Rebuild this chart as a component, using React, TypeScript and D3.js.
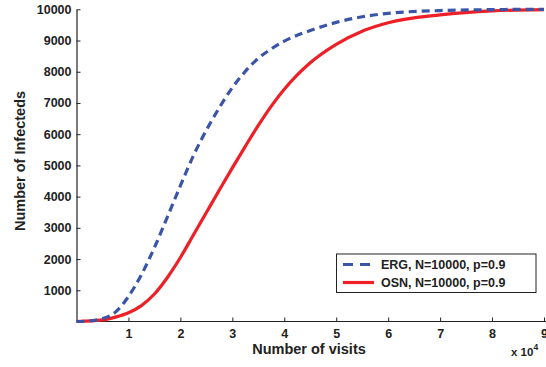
import React, { useEffect, useRef } from 'react'
import * as d3 from 'd3'

// visits in units of 10^4
const ergX = [0, 0.25, 0.5, 0.75, 1, 1.25, 1.5, 1.75, 2, 2.25, 2.5, 2.75, 3, 3.25, 3.5, 3.75, 4, 4.5, 5, 5.5, 6, 7, 8, 9]
const ergY = [0, 20, 90, 300, 800, 1500, 2370, 3350, 4350, 5310, 6130, 6850, 7490, 8010, 8430, 8730, 8980, 9320, 9580, 9760, 9870, 9960, 9990, 10000]

const osnX = [0, 0.5, 0.75, 1, 1.25, 1.5, 1.75, 2, 2.25, 2.5, 2.75, 3, 3.25, 3.5, 3.75, 4, 4.25, 4.5, 5, 5.5, 6, 7, 8, 9]
const osnY = [0, 50, 140, 280, 510, 880, 1410, 2050, 2770, 3490, 4210, 4920, 5610, 6280, 6900, 7440, 7900, 8290, 8880, 9300, 9570, 9820, 9950, 9990]

const xTicks = [1, 2, 3, 4, 5, 6, 7, 8, 9]
const yTicks = [1000, 2000, 3000, 4000, 5000, 6000, 7000, 8000, 9000, 10000]
const legendLabels = ['ERG, N=10000, p=0.9', 'OSN, N=10000, p=0.9']

const BLUE = '#3a55a8'
const RED = '#ee1f26'

export default function App() {
  const ref = useRef<SVGSVGElement>(null)

  useEffect(() => {
    const svg = d3.select(ref.current)
    svg.selectAll('*').remove()

    const x = d3.scaleLinear().domain([0, 9]).range([76.5, 544])
    const y = d3.scaleLinear().domain([0, 10000]).range([321.5, 9.3])
    const font = 'Liberation Sans, Arial, sans-serif'

    const line = d3.line<[number, number]>()
      .x(d => x(d[0]))
      .y(d => y(d[1]))
      .curve(d3.curveMonotoneX)

    // axes
    const xAxis = svg.append('g').attr('transform', `translate(0,${y(0)})`)
      .call(d3.axisBottom(x).tickValues(xTicks).tickSizeInner(-4).tickSizeOuter(0).tickPadding(8))
    const yAxis = svg.append('g').attr('transform', `translate(${x(0)},0)`)
      .call(d3.axisLeft(y).tickValues(yTicks).tickFormat(d3.format('d')).tickSizeInner(-4).tickSizeOuter(0).tickPadding(5))
    ;[xAxis, yAxis].forEach(a => {
      a.select('.domain').attr('stroke', '#222').attr('stroke-width', 1.2)
      a.selectAll('.tick line').attr('stroke', '#222')
      a.selectAll('.tick text')
        .attr('font-family', font).attr('font-weight', 'bold')
        .attr('font-size', 12.5).attr('fill', '#222')
    })
    xAxis.select('.domain').attr('d', `M${x(0)},0H546`)

    // curves
    svg.append('path')
      .datum(osnX.map((v, i) => [v, osnY[i]] as [number, number]))
      .attr('d', line).attr('fill', 'none')
      .attr('stroke', RED).attr('stroke-width', 3.2)
    svg.append('path')
      .datum(ergX.map((v, i) => [v, ergY[i]] as [number, number]))
      .attr('d', line).attr('fill', 'none')
      .attr('stroke', BLUE).attr('stroke-width', 3.2)
      .attr('stroke-dasharray', '8,5')

    // axis labels
    svg.append('text').attr('x', 309).attr('y', 353.5)
      .attr('text-anchor', 'middle').attr('font-family', font)
      .attr('font-weight', 'bold').attr('font-size', 14.5).attr('fill', '#222')
      .text('Number of visits')
    svg.append('text')
      .attr('transform', 'translate(24.5,161) rotate(-90)')
      .attr('text-anchor', 'middle').attr('font-family', font)
      .attr('font-weight', 'bold').attr('font-size', 14.5).attr('fill', '#222')
      .text('Number of Infecteds')
    const exp = svg.append('text').attr('x', 511).attr('y', 356)
      .attr('font-family', font).attr('font-weight', 'bold')
      .attr('font-size', 11.5).attr('fill', '#222')
    exp.append('tspan').text('x 10')
    exp.append('tspan').attr('dy', -6).attr('font-size', 8.5).text('4')

    // legend
    const lg = svg.append('g')
    lg.append('rect').attr('x', 336.5).attr('y', 254).attr('width', 199.5).attr('height', 38.5)
      .attr('fill', '#fff').attr('stroke', '#222').attr('stroke-width', 1)
    const colors = [BLUE, RED]
    legendLabels.forEach((t, i) => {
      const ly = 264.5 + i * 18
      lg.append('line').attr('x1', 343).attr('x2', 374).attr('y1', ly).attr('y2', ly)
        .attr('stroke', colors[i]).attr('stroke-width', 3.2)
        .attr('stroke-dasharray', i === 0 ? '10,7' : null)
      lg.append('text').attr('x', 381).attr('y', ly + 4.5)
        .attr('font-family', font).attr('font-weight', 'bold')
        .attr('font-size', 12.5).attr('fill', '#222').text(t)
    })
  }, [])

  return (
    <svg ref={ref} width={546} height={367}
      style={{ position: 'absolute', left: 0, top: 0, background: '#fff' }} />
  )
}
